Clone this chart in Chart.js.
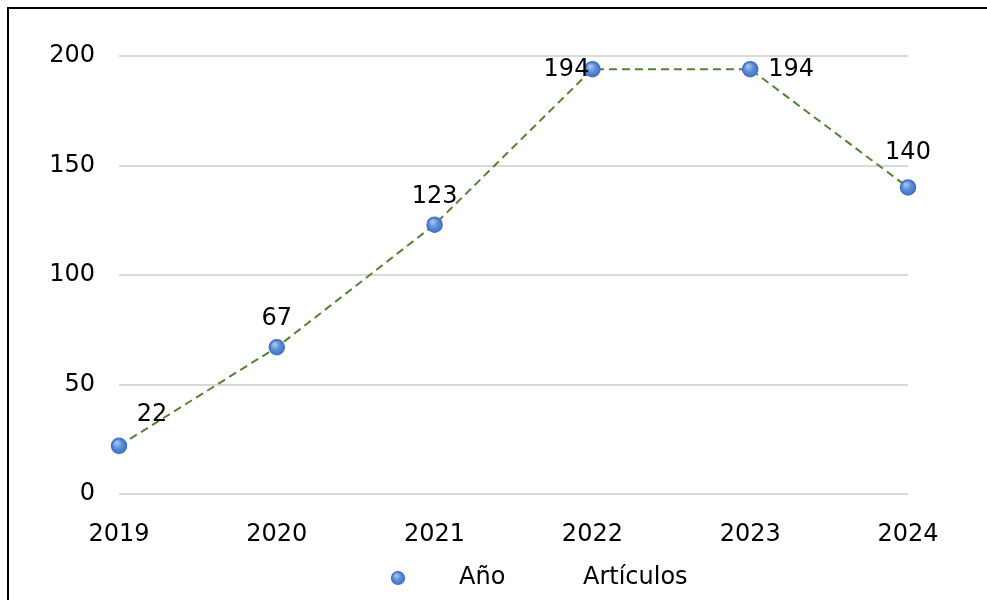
<!DOCTYPE html>
<html>
<head>
<meta charset="utf-8">
<script src="https://cdn.jsdelivr.net/npm/chart.js@4/dist/chart.umd.min.js"></script>
<style>
  html, body { margin: 0; padding: 0; background: #fff; }
  #frame {
    position: absolute; left: 7px; top: 7px; width: 980px; height: 593px;
    border-top: 2px solid #000; border-left: 2px solid #000; box-sizing: border-box;
  }
  #c { position: absolute; left: 0; top: 0; }
</style>
</head>
<body>
<div id="frame"></div>
<canvas id="c" width="987" height="600"></canvas>
<script>
// Articles published per year
const years = ['2019', '2020', '2021', '2022', '2023', '2024'];
const articulos = [22, 67, 123, 194, 194, 140];
const yTicks = [0, 50, 100, 150, 200];
const seriesNames = ['Año', 'Artículos'];

// Where each value label sits relative to its point: [dx, dy, align]
const labelPlacement = [
  [33, -31, 'center'],
  [0, -29, 'center'],
  [0, -28, 'center'],
  [-3, 1, 'right'],
  [18, 1, 'left'],
  [0, -35, 'center']
];

const FONT = { family: '"DejaVu Sans", Verdana, sans-serif', size: 24 };
const TEXT = '#000';
const POINT_SOLID = '#4f81cf';

function bubbleGradient(c2d, x, y, r) {
  const g = c2d.createRadialGradient(x - r * 0.3, y - r * 0.4, 0.5, x, y, r + 1);
  g.addColorStop(0, '#a9c5ef');
  g.addColorStop(0.5, '#5b8cd7');
  g.addColorStop(1, '#3e6dc2');
  return g;
}

function pointFill(ctx) {
  if (ctx.type !== 'data') return POINT_SOLID;
  const chart = ctx.chart;
  const xs = chart.scales && chart.scales.x;
  const ys = chart.scales && chart.scales.y;
  if (!xs || !ys) return POINT_SOLID;
  const x = xs.getPixelForValue(ctx.dataIndex);
  const y = ys.getPixelForValue(articulos[ctx.dataIndex]);
  if (!isFinite(x) || !isFinite(y)) return POINT_SOLID;
  return bubbleGradient(chart.ctx, x, y, 8);
}

// Value labels next to every point
const valueLabels = {
  id: 'valueLabels',
  afterDatasetsDraw(chart) {
    const meta = chart.getDatasetMeta(1);
    const c = chart.ctx;
    c.save();
    c.font = `${FONT.size}px ${FONT.family}`;
    c.fillStyle = TEXT;
    c.textBaseline = 'middle';
    meta.data.forEach((pt, i) => {
      const [dx, dy, align] = labelPlacement[i];
      c.textAlign = align;
      c.fillText(String(articulos[i]), pt.x + dx, pt.y + dy);
    });
    c.restore();
  }
};

// Legend row under the axis
const bottomLegend = {
  id: 'bottomLegend',
  afterDraw(chart) {
    const c = chart.ctx;
    const y = 578;
    c.save();
    c.beginPath();
    c.arc(398, y, 6.5, 0, Math.PI * 2);
    c.fillStyle = bubbleGradient(c, 398, y, 6.5);
    c.fill();
    c.lineWidth = 1.2;
    c.strokeStyle = '#4472c4';
    c.stroke();
    c.font = `${FONT.size}px ${FONT.family}`;
    c.fillStyle = TEXT;
    c.textAlign = 'left';
    c.textBaseline = 'middle';
    c.fillText(seriesNames[0], 459, y);
    c.fillText(seriesNames[1], 583, y);
    c.restore();
  }
};

new Chart(document.getElementById('c'), {
  type: 'line',
  data: {
    labels: years,
    datasets: [
      {
        label: seriesNames[1],
        data: articulos,
        borderColor: '#548235',
        borderWidth: 2,
        borderDash: [8, 5],
        pointRadius: 0,
        fill: false,
        tension: 0,
        clip: false,
        order: 2
      },
      {
        label: seriesNames[0],
        data: articulos,
        showLine: false,
        pointRadius: 7.5,
        pointBorderWidth: 1.5,
        pointBorderColor: '#4472c4',
        pointBackgroundColor: pointFill,
        clip: false,
        order: 1
      }
    ]
  },
  options: {
    responsive: false,
    animation: false,
    devicePixelRatio: 1,
    layout: { padding: { left: 0, top: 56, right: 79, bottom: 59 } },
    plugins: { legend: { display: false }, tooltip: { enabled: false } },
    scales: {
      x: {
        type: 'category',
        offset: false,
        grid: { display: false },
        border: { display: false },
        ticks: { font: FONT, color: TEXT, padding: 18, maxRotation: 0, autoSkip: false },
        afterFit(s) { s.height = 47; }
      },
      y: {
        min: yTicks[0],
        max: yTicks[yTicks.length - 1],
        ticks: { stepSize: yTicks[1] - yTicks[0], font: FONT, color: TEXT, padding: 24 },
        grid: { color: '#d9d9d9', lineWidth: 2, drawTicks: false },
        border: { display: false },
        afterFit(s) { s.width = 119; }
      }
    }
  },
  plugins: [valueLabels, bottomLegend]
});
</script>
</body>
</html>
